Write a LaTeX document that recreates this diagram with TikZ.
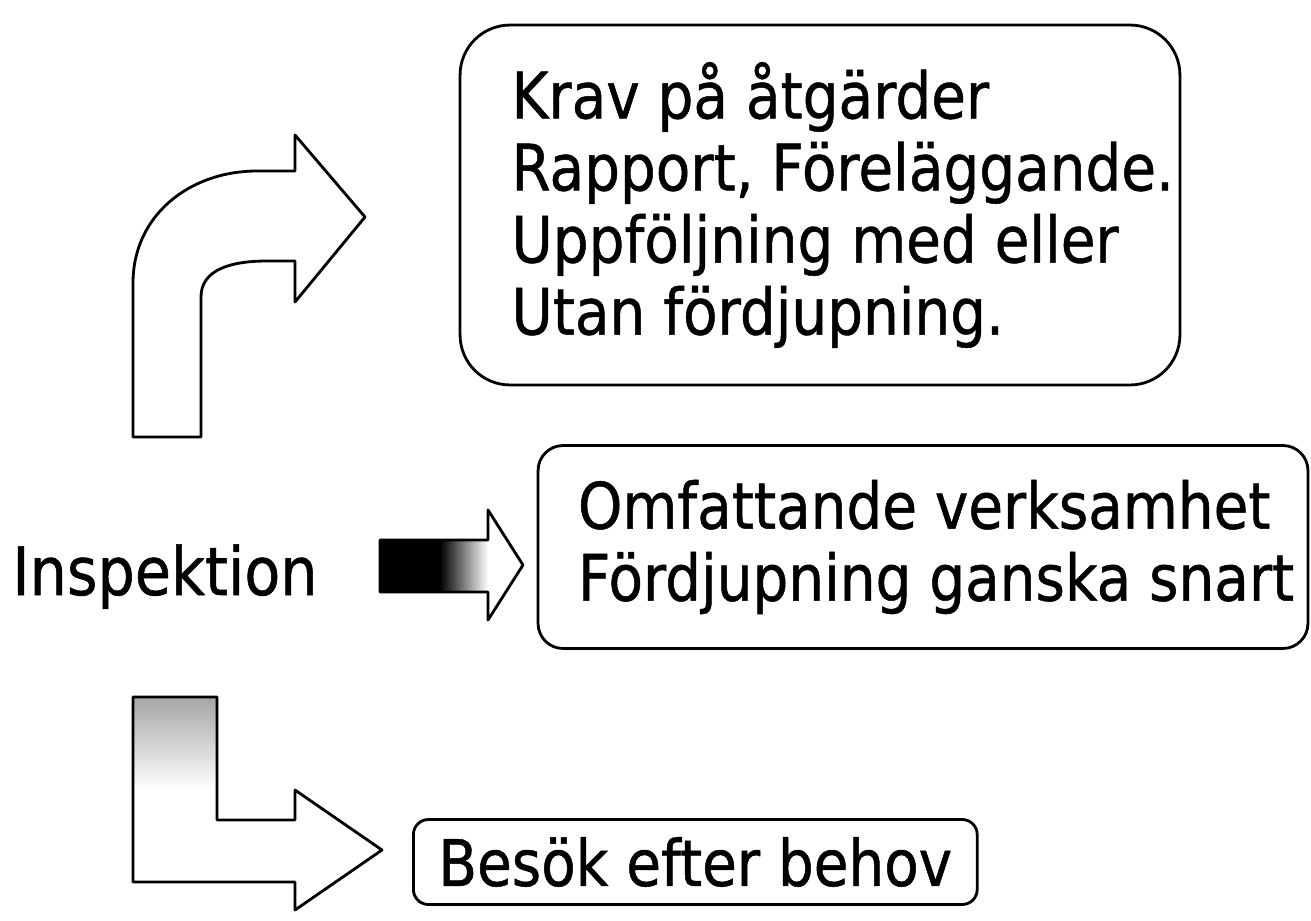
\documentclass[tikz,border=0pt]{standalone}
\usepackage{fontspec}
\setmainfont{DejaVu Sans}[FakeStretch=0.88, FakeBold=0.8]
\usetikzlibrary{positioning}

\begin{document}
\begin{tikzpicture}[x=0.02cm, y=-0.02cm, line join=round,
	box/.style={draw, line width=1.6pt, inner sep=0pt},
	boxtext/.style={align=left, inner sep=0pt, font=\fontsize{36.5}{41}\selectfont},
	blockarrow/.style={draw, line width=1.6pt}]
	\useasboundingbox (0,0) rectangle (1311,920);
	% the three boxes
	\node[box, rounded corners=1cm, minimum width=14.4cm, minimum height=7.2cm] (krav) at (820,205) {};
	\node[boxtext, anchor=west] (kravtext) at ([xshift=1.05cm]krav.west) {Krav på åtgärder\\Rapport, Föreläggande.\\Uppföljning med eller\\Utan fördjupning.};
	\node[box, rounded corners=0.5cm, minimum width=15.4cm, minimum height=4.06cm] (omfattande) at (923,547) {};
	\node[boxtext, anchor=west] (omfattandetext) at ([xshift=0.82cm]omfattande.west) {Omfattande verksamhet\\Fördjupning ganska snart};
	\node[box, boxtext, rounded corners=0.3cm, inner xsep=0.5cm, minimum height=1.7cm, anchor=west] (besok) at (412,862) {Besök efter behov};
	\node[anchor=base west, inner sep=0pt, font=\fontsize{38}{44}\selectfont] (inspektion) at (12,595) {Inspektion};
	% arrow up and to the right
	\draw[blockarrow] (133,437) -- (133,283) .. controls (133,215) and (190,171) .. (257,171) -- (295,171) -- (295,135) -- (365,217) -- (295,302) -- (295,261) -- (267,261) .. controls (230,261) and (201,270) .. (201,297) -- (201,437) -- cycle;
	% arrow straight ahead, fading
	\fill[black] (380,540) rectangle (440,592);
	\shade[left color=black, right color=white] (440,540) rectangle (488,592);
	\draw[blockarrow] (380,540) -- (488,540) -- (488,510) -- (523,565) -- (488,620) -- (488,592) -- (380,592) -- cycle;
	% arrow down and to the right
	\shade[top color=black!35, bottom color=white] (133,697) rectangle (217,790);
	\draw[blockarrow] (133,697) -- (217,697) -- (217,820) -- (295,820) -- (295,790) -- (382,850) -- (295,910) -- (295,882) -- (133,882) -- cycle;
\end{tikzpicture}
\end{document}
